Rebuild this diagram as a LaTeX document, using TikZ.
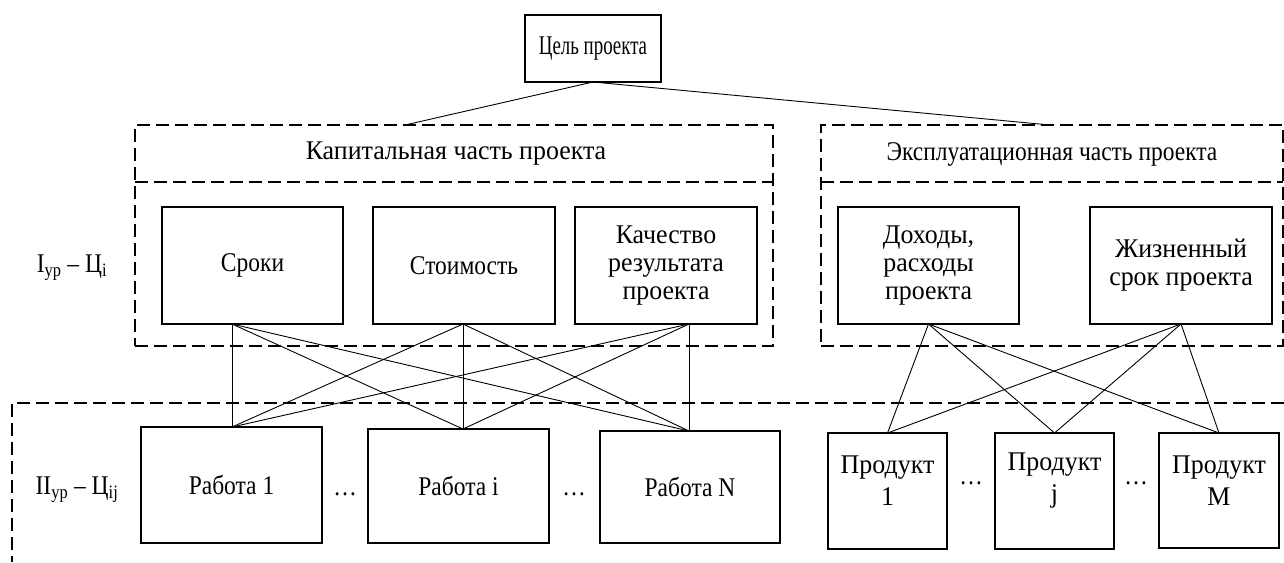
\documentclass[tikz,border=0pt]{standalone}
\usepackage{fontspec}
\setmainfont[FakeStretch=0.87]{Liberation Serif}
\newfontfamily\wideserif[FakeStretch=0.96]{Liberation Serif}
\newfontfamily\narrowserif[FakeStretch=0.7]{Liberation Serif}
\begin{document}
\begin{tikzpicture}[x=1pt,y=-1pt,
  txt/.style={font=\fontsize{27}{28}\selectfont},
  box/.style={draw, line width=1.6pt, inner sep=0pt, outer sep=0pt, align=center, txt},
  widebox/.style={box, font=\wideserif\fontsize{27}{28}\selectfont},
  prodtxt/.style={inner sep=0pt, align=center, font=\wideserif\fontsize{27}{32}\selectfont},
  grp/.style={draw, line width=1.8pt, dash pattern=on 13pt off 6pt, inner sep=0pt, outer sep=0pt},
  link/.style={line width=0.9pt},
  lbl/.style={txt, inner sep=0pt}]
\useasboundingbox (0,0) rectangle (1284,562);
\fill[white] (0,0) rectangle (1284,562);

% containers
\node[grp, minimum width=638pt, minimum height=221pt] (capC) at (454,235.5) {};
\node[grp, minimum width=462pt, minimum height=221pt] (expC) at (1052,235.5) {};
\draw[grp] (capC.west |- 0,182) -- (capC.east |- 0,182);
\draw[grp] (expC.west |- 0,182) -- (expC.east |- 0,182);
\draw[grp] (1284,403) -- (12,403) -- (12,562);

\node[lbl] (capT) at (456,154) {\wideserif Капитальная часть проекта};
\node[lbl] (expT) at (1052,154) {Эксплуатационная часть проекта};

% top goal
\node[box, minimum width=136pt, minimum height=67pt, font=\narrowserif\fontsize{27}{28}\selectfont] (goal) at (593,48.5) {Цель проекта};
\coordinate (capTop) at (405,125);
\coordinate (expTop) at (1050,125);
\draw[link] (goal.south) -- (capTop);
\draw[link] (goal.south) -- (expTop);

% level I
\node[box, minimum width=181pt, minimum height=117pt] (sroki) at (252.5,265.5) {Сроки};
\node[box, minimum width=182pt, minimum height=117pt] (cost) at (464,265.5) {Стоимость};
\node[widebox, minimum width=182pt, minimum height=117pt] (qual) at (666,265.5) {Качество\\результата\\проекта};
\node[widebox, minimum width=181pt, minimum height=117pt] (inc) at (928.5,265.5) {Доходы,\\расходы\\проекта};
\node[widebox, minimum width=182pt, minimum height=117pt] (life) at (1181,265.5) {Жизненный\\срок проекта};

% level II
\node[box, minimum width=181pt, minimum height=116pt] (w1) at (231.5,485) {Работа 1};
\node[box, minimum width=181pt, minimum height=114pt] (wi) at (458.5,486) {Работа i};
\node[box, minimum width=180pt, minimum height=112pt] (wn) at (690,487) {Работа N};
\node[box, minimum width=119pt, minimum height=116pt] (p1) at (887.5,491) {};
\node[box, minimum width=119pt, minimum height=116pt] (pj) at (1054.5,491) {};
\node[box, minimum width=120pt, minimum height=115pt] (pm) at (1219,490.5) {};
\node[prodtxt] (p1t) at ([yshift=10pt]p1.center) {Продукт\\1};
\node[prodtxt] (pjt) at ([yshift=10pt]pj.center) {Продукт\\j};
\node[prodtxt] (pmt) at ([yshift=10pt]pm.center) {Продукт\\M};

% dots
\node[lbl, anchor=base] (d1) at (345,495) {…};
\node[lbl, anchor=base] (d2) at (574,495) {…};
\node[lbl, anchor=base] (d3) at (971,484) {…};
\node[lbl, anchor=base] (d4) at (1136,484) {…};

% level labels
\node[lbl] (l1) at (72,268) {I\textsubscript{ур} – Ц\textsubscript{i}};
\node[lbl] (l2) at (77,490) {II\textsubscript{ур} – Ц\textsubscript{ij}};

% left links
\coordinate (a1) at ([xshift=-20.5pt]sroki.south);
\coordinate (a2) at ([xshift=-1pt]cost.south);
\coordinate (a3) at ([xshift=23pt]qual.south);
\coordinate (b1) at ([xshift=0.5pt]w1.north);
\coordinate (b2) at ([xshift=4.5pt]wi.north);
\coordinate (b3) at ([xshift=-1pt]wn.north);
\foreach \a in {a1,a2,a3}{\foreach \b in {b1,b2,b3}{\draw[link] (\a) -- (\b);}}

% right links
\foreach \a in {inc,life}{\foreach \b in {p1,pj,pm}{\draw[link] (\a.south) -- (\b.north);}}
\end{tikzpicture}
\end{document}
